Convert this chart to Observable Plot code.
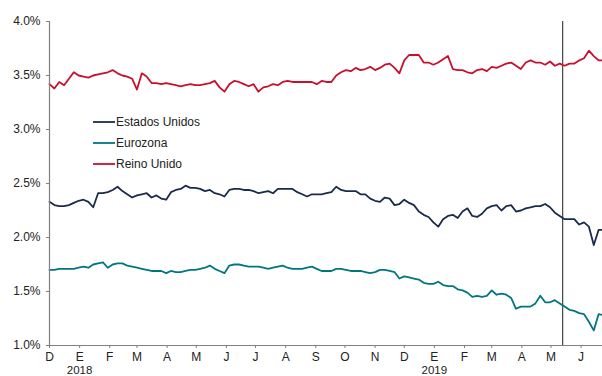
<!DOCTYPE html>
<html>
<head>
<meta charset="utf-8">
<script src="https://cdn.jsdelivr.net/npm/d3@7"></script>
<script src="https://cdn.jsdelivr.net/npm/@observablehq/plot@0.6"></script>
<style>
  html, body { margin: 0; padding: 0; background: #fff; }
  #chart svg { display: block; }
</style>
</head>
<body>
<div id="chart"></div>
<script>
// Rendimiento del bono a 10 años (%), observaciones cada 5 días desde el 1 de diciembre de 2017
const startDate = new Date(Date.UTC(2017, 11, 1));
const stepDays = 5;

const seriesNames = ["Estados Unidos", "Eurozona", "Reino Unido"];
const seriesColors = ["#1b2b4b", "#00777f", "#c8102e"];

const estadosUnidos = [
  2.33, 2.30, 2.29, 2.29, 2.30, 2.32, 2.34, 2.35, 2.33, 2.28,
  2.41, 2.41, 2.42, 2.44, 2.47, 2.43, 2.40, 2.37, 2.39, 2.40,
  2.41, 2.37, 2.39, 2.36, 2.35, 2.42, 2.44, 2.45, 2.48, 2.46,
  2.46, 2.45, 2.43, 2.44, 2.41, 2.40, 2.38, 2.44, 2.45, 2.45,
  2.44, 2.44, 2.43, 2.41, 2.42, 2.43, 2.41, 2.45, 2.45, 2.45,
  2.45, 2.42, 2.40, 2.38, 2.40, 2.40, 2.40, 2.41, 2.42, 2.47,
  2.44, 2.43, 2.43, 2.43, 2.40, 2.40, 2.36, 2.34, 2.33, 2.37,
  2.36, 2.30, 2.31, 2.35, 2.32, 2.30, 2.24, 2.21, 2.19, 2.14,
  2.10, 2.17, 2.20, 2.21, 2.18, 2.24, 2.27, 2.20, 2.19, 2.22,
  2.27, 2.29, 2.30, 2.25, 2.29, 2.30, 2.24, 2.25, 2.27, 2.28,
  2.29, 2.29, 2.31, 2.28, 2.23, 2.20, 2.17, 2.17, 2.17, 2.12,
  2.14, 2.10, 1.93, 2.07, 2.07
];

const eurozona = [
  1.70, 1.70, 1.71, 1.71, 1.71, 1.71, 1.72, 1.73, 1.72, 1.75,
  1.76, 1.77, 1.72, 1.75, 1.76, 1.76, 1.74, 1.73, 1.72, 1.71,
  1.70, 1.69, 1.69, 1.69, 1.67, 1.69, 1.68, 1.68, 1.69, 1.70,
  1.70, 1.71, 1.72, 1.74, 1.71, 1.69, 1.67, 1.74, 1.75, 1.75,
  1.74, 1.73, 1.73, 1.73, 1.72, 1.71, 1.72, 1.73, 1.74, 1.72,
  1.71, 1.71, 1.71, 1.72, 1.73, 1.71, 1.69, 1.69, 1.69, 1.71,
  1.71, 1.70, 1.69, 1.69, 1.69, 1.68, 1.67, 1.68, 1.70, 1.70,
  1.69, 1.68, 1.62, 1.64, 1.63, 1.62, 1.61, 1.58, 1.57, 1.57,
  1.59, 1.56, 1.55, 1.55, 1.52, 1.51, 1.49, 1.45, 1.46, 1.45,
  1.46, 1.51, 1.47, 1.48, 1.47, 1.44, 1.34, 1.36, 1.36, 1.36,
  1.39, 1.46, 1.40, 1.40, 1.42, 1.39, 1.36, 1.33, 1.32, 1.30,
  1.29, 1.22, 1.14, 1.29, 1.28
];

const reinoUnido = [
  3.42, 3.38, 3.44, 3.41, 3.47, 3.53, 3.50, 3.49, 3.48, 3.50,
  3.51, 3.52, 3.53, 3.55, 3.52, 3.50, 3.49, 3.47, 3.37, 3.52,
  3.49, 3.43, 3.43, 3.42, 3.43, 3.42, 3.41, 3.40, 3.41, 3.42,
  3.41, 3.41, 3.42, 3.43, 3.45, 3.39, 3.35, 3.42, 3.45, 3.44,
  3.42, 3.40, 3.42, 3.35, 3.39, 3.40, 3.42, 3.41, 3.44, 3.45,
  3.44, 3.44, 3.44, 3.44, 3.44, 3.42, 3.45, 3.44, 3.44, 3.50,
  3.53, 3.55, 3.54, 3.57, 3.55, 3.56, 3.58, 3.55, 3.57, 3.60,
  3.61, 3.57, 3.52, 3.64, 3.69, 3.69, 3.69, 3.62, 3.62, 3.60,
  3.62, 3.65, 3.68, 3.56, 3.55, 3.55, 3.53, 3.52, 3.55, 3.56,
  3.54, 3.58, 3.57, 3.59, 3.61, 3.62, 3.59, 3.56, 3.62, 3.64,
  3.62, 3.62, 3.60, 3.63, 3.59, 3.61, 3.59, 3.61, 3.61, 3.64,
  3.66, 3.73, 3.68, 3.64, 3.64
];

const yTicks = [1.0, 1.5, 2.0, 2.5, 3.0, 3.5, 4.0];
const monthLetters = ["E", "F", "M", "A", "M", "J", "J", "A", "S", "O", "N", "D"];
const yearLabels = [
  {date: new Date(Date.UTC(2018, 0, 1)), text: "2018"},
  {date: new Date(Date.UTC(2019, 0, 1)), text: "2019"}
];
const markerDate = new Date(Date.UTC(2019, 4, 13));
const xDomain = [startDate, new Date(Date.UTC(2019, 5, 23))];

// Long table for the line mark
const dates = estadosUnidos.map((_, i) => d3.utcDay.offset(startDate, i * stepDays));
const valuesBySeries = [estadosUnidos, eurozona, reinoUnido];
const rows = seriesNames.flatMap((name, s) =>
  valuesBySeries[s].map((v, i) => ({date: dates[i], value: v, series: name}))
);
const monthTicks = d3.utcMonth.range(startDate, d3.utcDay.offset(xDomain[1], 1));

const chart = Plot.plot({
  width: 602,
  height: 376,
  marginLeft: 49,
  marginRight: 0,
  marginTop: 21,
  marginBottom: 31,
  style: {fontFamily: "'Liberation Sans', Arial, sans-serif", fontSize: "12px", color: "#222", background: "#fff"},
  x: {type: "utc", domain: xDomain},
  y: {domain: [1, 4]},
  color: {domain: seriesNames, range: seriesColors},
  marks: [
    Plot.ruleX([markerDate], {y1: 1, y2: 4, stroke: "#444", strokeWidth: 1.2}),
    Plot.line(rows, {x: "date", y: "value", z: "series", stroke: "series", strokeWidth: 1.8, curve: "linear"}),
    Plot.ruleX([xDomain[0]], {y1: 1, y2: 4, stroke: "#808080", strokeWidth: 1.2}),
    Plot.ruleY([1], {stroke: "#808080", strokeWidth: 1.2}),
    Plot.axisY({ticks: yTicks, tickFormat: d => d.toFixed(1) + "%", tickSize: 3, tickPadding: 6, stroke: "#808080", fill: "#222", fontSize: 12, label: null}),
    Plot.axisX({ticks: monthTicks, tickFormat: d => monthLetters[d.getUTCMonth()], tickSize: 3, tickPadding: 4, stroke: "#808080", fill: "#222", fontSize: 12, label: null}),
    Plot.text(yearLabels.slice(0, 1), {x: "date", y: () => 1, text: "text", dy: 25, fill: "#222", fontSize: 11.5}),
    Plot.text(yearLabels.slice(1), {x: "date", y: () => 1, text: "text", dy: 24.5, fill: "#222", fontSize: 11.5})
  ]
});

// Legend inside the plot area, top left
const svg = d3.select(chart);
const legend = svg.append("g")
  .attr("font-family", "'Liberation Sans', Arial, sans-serif")
  .attr("font-size", 12)
  .attr("text-anchor", "start");
seriesNames.forEach((name, i) => {
  const y = 122 + i * 21;
  legend.append("line").attr("x1", 93).attr("x2", 115).attr("y1", y).attr("y2", y)
    .attr("stroke", seriesColors[i]).attr("stroke-width", 1.8);
  legend.append("text").attr("x", 116).attr("y", y).attr("dy", "0.35em")
    .attr("text-anchor", "start").attr("fill", "#222").text(name);
});

document.getElementById("chart").appendChild(chart);
</script>
</body>
</html>
